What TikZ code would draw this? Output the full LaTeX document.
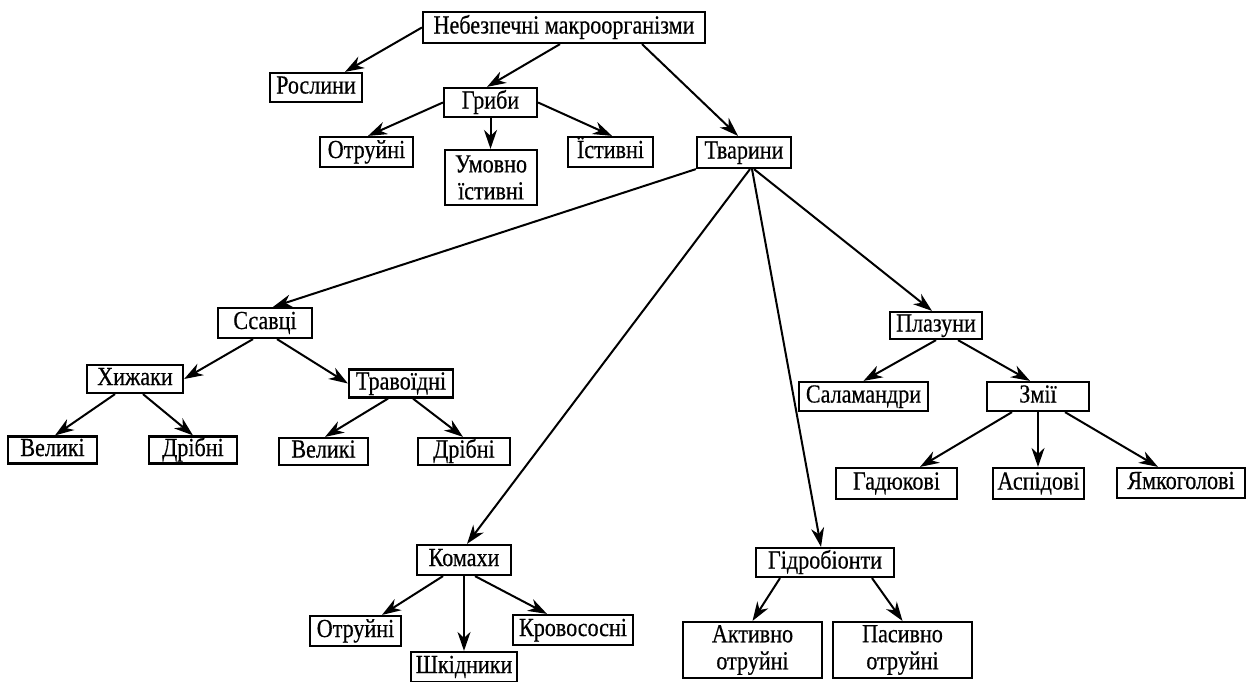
\documentclass[tikz,border=0pt]{standalone}
\usepackage{fontspec}
\setmainfont{Liberation Serif}[FakeStretch=0.85,FakeBold=0.5]
\usetikzlibrary{arrows.meta}
\tikzset{
  box/.style={draw, line width=2.2pt, inner sep=1pt, align=center,
    font=\fontsize{26}{27}\selectfont, minimum height=#1},
  box/.default=30pt,
  one/.style={box=#1, text height=17pt, text depth=5pt},
  one/.default=30pt,
  arr/.style={line width=2pt, -{Stealth[length=19pt,width=13pt,inset=6pt]}}
}
\begin{document}
\begin{tikzpicture}[x=1pt,y=-1pt]
\useasboundingbox[fill=white] (0,0) rectangle (1246,681);
% nodes
\node[one=31pt, minimum width=282pt] (root) at (564,27.5) {Небезпечні макроорганізми};
\node[one=29pt, minimum width=92pt] (rosl) at (316,87.5) {Рослини};
\node[one=29pt, minimum width=93pt] (gryby) at (490.5,102.5) {Гриби};
\node[one, minimum width=93pt] (otr1) at (366.5,152) {Отруйні};
\node[box=55pt, minimum width=92pt] (umov) at (491,177.5) {Умовно\\їстивні};
\node[one, minimum width=85pt] (ist) at (610.5,152) {Їстивні};
\node[one=31pt, minimum width=94pt] (tvar) at (744,152.5) {Тварини};
\node[one, minimum width=94pt] (ssav) at (265,323) {Ссавці};
\node[one=28pt, minimum width=96pt] (hyzh) at (135,379) {Хижаки};
\node[one=28pt, minimum width=104pt] (trav) at (401,383.5) {Травоїдні};
\node[one=27pt, minimum width=89pt] (vel1) at (52.5,450) {Великі};
\node[one=27pt, minimum width=88pt] (dri1) at (193,450) {Дрібні};
\node[one=27pt, minimum width=89pt] (vel2) at (323.5,451.5) {Великі};
\node[one=27pt, minimum width=92pt] (dri2) at (464,451.5) {Дрібні};
\node[one, minimum width=94pt] (koma) at (464,560) {Комахи};
\node[one, minimum width=91pt] (otr2) at (355.5,631) {Отруйні};
\node[one, minimum width=106pt] (shkid) at (464,667) {Шкідники};
\node[one, minimum width=120pt] (krov) at (573,630) {Кровососні};
\node[one=29pt, minimum width=138pt] (hidro) at (825,562.5) {Гідробіонти};
\node[box=56pt, minimum width=139pt] (aktyv) at (752.5,650) {Активно\\отруйні};
\node[box=56pt, minimum width=139pt] (pasyv) at (902.5,650) {Пасивно\\отруйні};
\node[one=27pt, minimum width=92pt] (plaz) at (936,325.5) {Плазуни};
\node[one=29pt, minimum width=129pt] (salam) at (863.5,396.5) {Саламандри};
\node[one=29pt, minimum width=102pt] (zmii) at (1038,396.5) {Змії};
\node[one=31pt, minimum width=121pt] (hadyuk) at (896.5,483.5) {Гадюкові};
\node[one=31pt, minimum width=91pt] (aspid) at (1038.5,483.5) {Аспідові};
\node[one, minimum width=128pt] (yamk) at (1181,483) {Ямкоголові};
% connectors
\draw[arr] (root.west) -- ([xshift=29pt]rosl.north);
\draw[arr] ([xshift=-4pt]root.south) -- ([xshift=-3.5pt]gryby.north);
\draw[arr] ([xshift=78pt]root.south) -- ([xshift=-6pt]tvar.north);
\draw[arr] (gryby.west) -- ([xshift=1.5pt]otr1.north);
\draw[arr] (gryby.south) -- (gryby.south |- umov.north);
\draw[arr] (gryby.east) -- ([xshift=1.5pt]ist.north);
\draw[arr] (tvar.south west) -- ([xshift=8pt]ssav.north);
\draw[arr] ([xshift=6pt]tvar.south) -- ([xshift=3pt]koma.north);
\draw[arr] ([xshift=8pt]tvar.south) -- ([xshift=-4pt]hidro.north);
\draw[arr] ([xshift=10pt]tvar.south) -- ([xshift=-4pt]plaz.north);
\draw[arr] ([xshift=-12pt]ssav.south) -- (hyzh.east);
\draw[arr] ([xshift=12pt]ssav.south) -- (trav.west);
\draw[arr] ([xshift=-20pt]hyzh.south) -- ([xshift=2.5pt]vel1.north);
\draw[arr] ([xshift=8pt]hyzh.south) -- (dri1.north);
\draw[arr] ([xshift=-13pt]trav.south) -- ([xshift=1.5pt]vel2.north);
\draw[arr] ([xshift=12pt]trav.south) -- ([xshift=-1pt]dri2.north);
\draw[arr] ([xshift=-21pt]koma.south) -- ([xshift=26.5pt]otr2.north);
\draw[arr] (koma.south) -- (shkid.north);
\draw[arr] ([xshift=11pt]koma.south) -- ([xshift=-26pt]krov.north);
\draw[arr] ([xshift=-45pt]hidro.south) -- (aktyv.north);
\draw[arr] ([xshift=47pt]hidro.south) -- (pasyv.north);
\draw[arr] (plaz.south) -- (salam.north);
\draw[arr] ([xshift=22pt]plaz.south) -- ([xshift=-8pt]zmii.north);
\draw[arr] ([xshift=-26pt]zmii.south) -- ([xshift=23.5pt]hadyuk.north);
\draw[arr] (zmii.south) -- (zmii.south |- aspid.north);
\draw[arr] ([xshift=27pt]zmii.south) -- ([xshift=-23pt]yamk.north);
\end{tikzpicture}
\end{document}
